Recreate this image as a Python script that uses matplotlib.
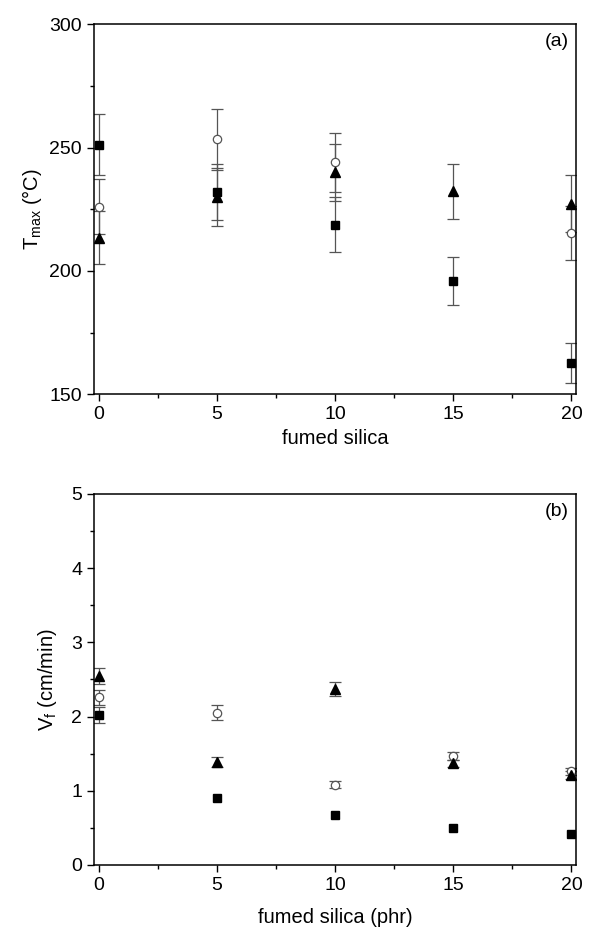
import matplotlib
matplotlib.use("Agg")
import matplotlib.pyplot as plt
import numpy as np
from matplotlib.ticker import MultipleLocator

plt.rcParams['font.family'] = ['Liberation Sans', 'DejaVu Sans']
plt.rcParams['mathtext.fontset'] = 'custom'
plt.rcParams['mathtext.rm'] = 'Liberation Sans'
plt.rcParams['mathtext.it'] = 'Liberation Sans'

silica = [0, 5, 10, 15, 20]
nan = np.nan

# (a) Tmax
tmax_sq = [251.2, 232.0, 218.8, 195.8, 162.7]
tmax_sq_err = [12.5, 11.5, 11.0, 9.7, 8.0]
tmax_ci = [226.0, 253.3, 244.1, nan, 215.4]
tmax_ci_err = [11.2, 12.5, 12.0, nan, 10.8]
tmax_tr = [213.5, 230.0, 239.9, 232.3, 227.3]
tmax_tr_err = [10.6, 11.8, 11.6, 11.2, 11.5]

# (b) Vf
vf_sq = [2.02, 0.90, 0.67, 0.50, 0.41]
vf_sq_err = [0.11, nan, nan, nan, nan]
vf_ci = [2.26, 2.05, 1.08, 1.47, 1.26]
vf_ci_err = [0.10, 0.10, 0.05, 0.05, 0.05]
vf_tr = [2.55, 1.39, 2.37, 1.37, 1.21]
vf_tr_err = [0.11, 0.07, 0.10, 0.05, 0.05]

fig = plt.figure(figsize=(6.02, 9.32), dpi=100)
ax1 = fig.add_axes([0.156, 0.577, 0.801, 0.397])
ax2 = fig.add_axes([0.156, 0.072, 0.801, 0.398])

err_kw = dict(ls='none', ecolor='#555555', elinewidth=0.9, capsize=4, capthick=0.9)


def draw(ax, sq, sqe, ci, cie, tr, tre):
    ax.errorbar(silica, ci, yerr=cie, marker='o', ms=6, mfc='white', mec='#555555', mew=0.9, **err_kw)
    ax.errorbar(silica, sq, yerr=sqe, marker='s', ms=6, mfc='black', mec='black', **err_kw)
    ax.errorbar(silica, tr, yerr=tre, marker='^', ms=7, mfc='black', mec='black', **err_kw)
    ax.set_xlim(-0.2, 20.2)
    ax.xaxis.set_major_locator(MultipleLocator(5))
    ax.xaxis.set_minor_locator(MultipleLocator(2.5))
    ax.tick_params(which='both', direction='out', top=False, right=False, labelsize=14)
    ax.tick_params(which='major', length=5, width=1)
    ax.tick_params(which='minor', length=3, width=1)
    for s in ax.spines.values():
        s.set_linewidth(1.1)


draw(ax1, tmax_sq, tmax_sq_err, tmax_ci, tmax_ci_err, tmax_tr, tmax_tr_err)
ax1.set_ylim(150, 300)
ax1.yaxis.set_major_locator(MultipleLocator(50))
ax1.yaxis.set_minor_locator(MultipleLocator(25))
ax1.set_ylabel('T$_{max}$ (°C)', fontsize=14.5)
ax1.set_xlabel('fumed silica', fontsize=14.5, labelpad=4)
ax1.text(0.985, 0.975, '(a)', transform=ax1.transAxes, ha='right', va='top', fontsize=14)

draw(ax2, vf_sq, vf_sq_err, vf_ci, vf_ci_err, vf_tr, vf_tr_err)
ax2.set_ylim(0, 5)
ax2.yaxis.set_major_locator(MultipleLocator(1))
ax2.yaxis.set_minor_locator(MultipleLocator(0.5))
ax2.set_ylabel('V$_f$ (cm/min)', fontsize=14.5, labelpad=8.5)
ax2.set_xlabel('fumed silica (phr)', fontsize=14.5, labelpad=10)
ax2.text(0.985, 0.975, '(b)', transform=ax2.transAxes, ha='right', va='top', fontsize=14)

fig.savefig('out.png', dpi=100)
